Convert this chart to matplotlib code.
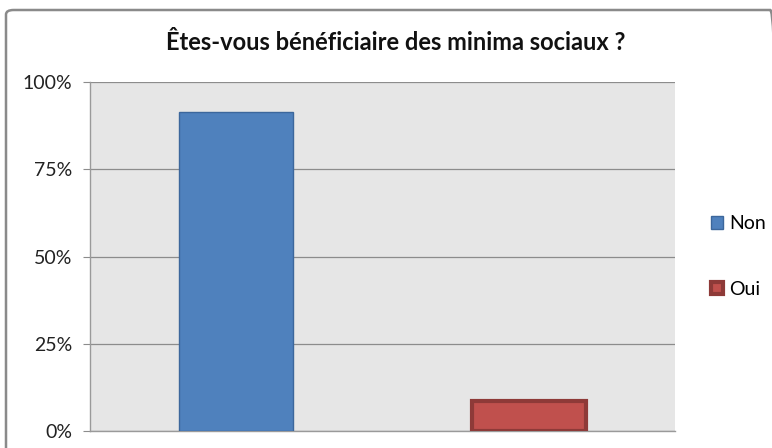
import matplotlib.pyplot as plt
import matplotlib.patches as mpatches
from matplotlib.ticker import FuncFormatter

# data
categories = ["Non", "Oui"]
values = [91.4, 8.6]
fills = ["#4F81BD", "#C0504D"]
edges = ["#3C679C", "#8E3A38"]
edge_w = [1.0, 3.0]
yticks = [0, 25, 50, 75, 100]

plt.rcParams["font.family"] = ["Lato", "DejaVu Sans"]

fig = plt.figure(figsize=(7.72, 4.48), dpi=100, facecolor="white")
ax = fig.add_axes([90 / 772, 17 / 448, 585 / 772, 349 / 448])
ax.set_facecolor("#E6E6E6")

xs = list(range(len(categories)))
for x, v, fc, ec, lw in zip(xs, values, fills, edges, edge_w):
    ax.bar(x, v, width=0.39, color=fc, edgecolor=ec, linewidth=lw, zorder=3)

ax.set_xlim(-0.5, 1.5)
ax.set_ylim(0, 100)
ax.set_yticks(yticks)
ax.yaxis.set_major_formatter(FuncFormatter(lambda v, p: f"{v:.0f}%"))
ax.set_xticks([])
ax.tick_params(axis="y", length=5, color="#8C8C8C", labelsize=14, labelcolor="#222222", pad=8)
ax.grid(axis="y", color="#8C8C8C", lw=0.9, zorder=1)
for s in ["top", "right"]:
    ax.spines[s].set_visible(False)
for s in ["left", "bottom"]:
    ax.spines[s].set_color("#9A9A9A")
    ax.spines[s].set_linewidth(1.0)

fig.text(396 / 772, 1 - 42 / 448, "Êtes-vous bénéficiaire des minima sociaux ?", ha="center", va="center",
         fontsize=17, fontweight="bold", color="#111111")

handles = [mpatches.Patch(facecolor=fc, edgecolor=ec, linewidth=lw)
           for fc, ec, lw in zip(fills, edges, edge_w)]
fig.legend(handles, categories, loc="center left", bbox_to_anchor=(711 / 772, 1 - 256.5 / 448),
           frameon=False, fontsize=14, handlelength=0.62, handleheight=0.62,
           handletextpad=0.3, labelspacing=2.5, borderpad=0, borderaxespad=0)

# outer chart frame
fig.patches.append(mpatches.FancyBboxPatch((6 / 772, -0.05), 1.0, 0.05 + (448 - 10) / 448,
                   boxstyle="round,pad=0,rounding_size=0.01", transform=fig.transFigure,
                   facecolor="none", edgecolor="#8A8A8A", linewidth=1.8))

fig.savefig("out.png", dpi=100)
